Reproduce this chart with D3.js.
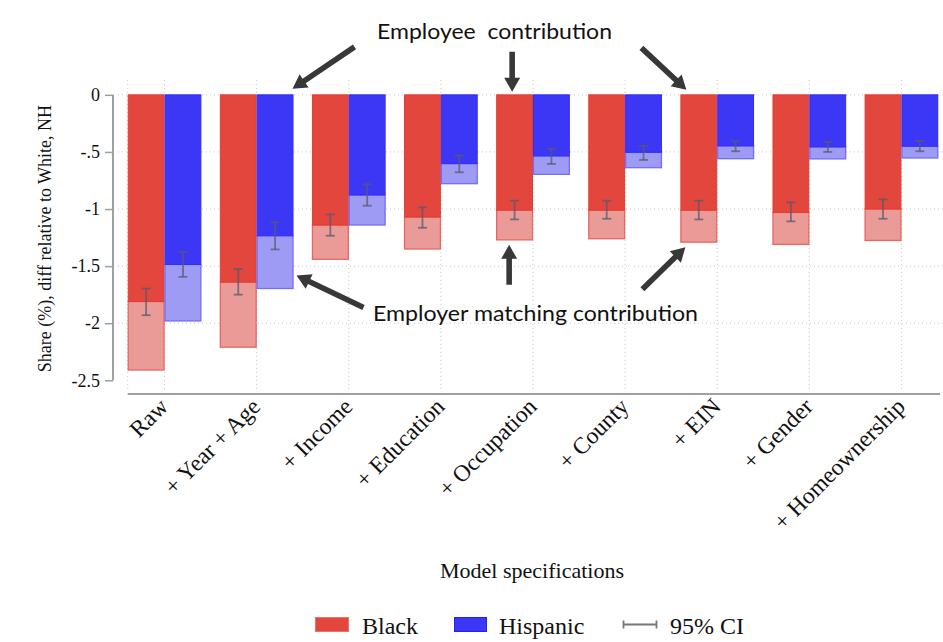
<!DOCTYPE html>
<html>
<head>
<meta charset="utf-8">
<script src="https://cdn.jsdelivr.net/npm/d3@7"></script>
<style>
  html, body { margin: 0; padding: 0; background: #fff; }
  svg { display: block; }
</style>
</head>
<body>
<svg id="chart" width="943" height="642"></svg>
<script>
// ---------------- data ----------------
const categories = ["Raw", "+ Year + Age", "+ Income", "+ Education", "+ Occupation",
                    "+ County", "+ EIN", "+ Gender", "+ Homeownership"];
// Black: employee contribution (dark part) and total incl. employer match (light part)
const blackEmployee = [-1.81, -1.64, -1.14, -1.07, -1.01, -1.01, -1.01, -1.03, -1.00];
const blackTotal    = [-2.41, -2.21, -1.44, -1.35, -1.27, -1.26, -1.29, -1.31, -1.275];
const blackCILow    = [-1.93, -1.75, -1.234, -1.164, -1.091, -1.085, -1.091, -1.108, -1.085];
const blackCIHigh   = [-1.696, -1.526, -1.047, -0.985, -0.927, -0.927, -0.927, -0.941, -0.915];
// Hispanic
const hispEmployee  = [-1.485, -1.234, -0.877, -0.602, -0.535, -0.503, -0.447, -0.456, -0.45];
const hispTotal     = [-1.98, -1.696, -1.14, -0.778, -0.696, -0.638, -0.559, -0.561, -0.553];
const hispCILow     = [-1.594, -1.354, -0.971, -0.678, -0.605, -0.570, -0.494, -0.50, -0.494];
const hispCIHigh    = [-1.375, -1.117, -0.784, -0.532, -0.471, -0.447, -0.406, -0.412, -0.404];
// axis ticks
const yTicks = [0, -0.5, -1, -1.5, -2, -2.5];
const yTickLabels = ["0", "-.5", "-1", "-1.5", "-2", "-2.5"];
const gridTicks = [0, -0.5, -1, -1.5, -2];
const legendLabels = ["Black", "Hispanic", "95% CI"];
const annotationTop = "Employee  contribution";
const annotationBottom = "Employer matching contribution";
const yTitle = "Share (%), diff relative to White, NH";
const xTitle = "Model specifications";

// ---------------- styles ----------------
const C = {
  redDark: "#e3463d", redDarkStroke: "#e63b32",
  redLight: "#eb9b97", redLightStroke: "#e8665f",
  blueDark: "#3b37f5", blueDarkStroke: "#2f2cff",
  blueLight: "#9e9bf5", blueLightStroke: "#716ef7",
  ci: "rgba(90,90,110,0.75)", grid: "#c8c8c8", axis: "#a0a0a0", arrow: "#383838"
};
const serif = "'Liberation Serif', 'Times New Roman', serif";
const sans = "Lato, 'Open Sans', sans-serif";

const svg = d3.select("#chart");

// ---------------- scales ----------------
const y = d3.scaleLinear().domain([-2.62, 0.13]).range([394, 80]);
const x = d3.scaleBand().domain(categories).range([118.5, 947.5])
  .paddingInner(0.2).paddingOuter(0.1);
const sub = d3.scaleBand().domain(["Black", "Hispanic"]).range([0, x.bandwidth()]);
const bw = sub.bandwidth();

// ---------------- grid ----------------
const grid = svg.append("g");
grid.selectAll("line.h").data(gridTicks).join("line")
  .attr("x1", 118).attr("x2", 943)
  .attr("y1", d => y(d)).attr("y2", d => y(d))
  .attr("stroke", C.grid).attr("stroke-width", 1).attr("stroke-dasharray", "1,3");
const vgrid = [x(categories[0])].concat(categories.map(c => x(c) + x.bandwidth() / 2));
grid.selectAll("line.v").data(vgrid).join("line")
  .attr("x1", d => d).attr("x2", d => d)
  .attr("y1", 80).attr("y2", 392)
  .attr("stroke", C.grid).attr("stroke-width", 1).attr("stroke-dasharray", "1,3");

// ---------------- bars ----------------
const rows = categories.map((c, i) => ({
  c,
  b: { emp: blackEmployee[i], tot: blackTotal[i], lo: blackCILow[i], hi: blackCIHigh[i] },
  h: { emp: hispEmployee[i], tot: hispTotal[i], lo: hispCILow[i], hi: hispCIHigh[i] }
}));

const bars = svg.append("g");
function drawSeries(key, name, fillDark, strokeDark, fillLight, strokeLight) {
  const g = bars.append("g");
  // light (employer) part: from employee level to total
  g.selectAll("rect.l").data(rows).join("rect")
    .attr("x", d => x(d.c) + sub(name) + 0.5)
    .attr("width", bw - 1)
    .attr("y", d => y(d[key].emp))
    .attr("height", d => y(d[key].tot) - y(d[key].emp))
    .attr("fill", fillLight).attr("stroke", strokeLight).attr("stroke-width", 1.3);
  // dark (employee) part: 0 to employee
  g.selectAll("rect.d").data(rows).join("rect")
    .attr("x", d => x(d.c) + sub(name) + 0.5)
    .attr("width", bw - 1)
    .attr("y", y(0))
    .attr("height", d => y(d[key].emp) - y(0))
    .attr("fill", fillDark).attr("stroke", strokeDark).attr("stroke-width", 1);
  // confidence intervals
  const ci = g.selectAll("g.ci").data(rows).join("g")
    .attr("transform", d => `translate(${x(d.c) + sub(name) + bw / 2},0)`);
  ci.append("line").attr("x1", 0).attr("x2", 0)
    .attr("y1", d => y(d[key].lo)).attr("y2", d => y(d[key].hi))
    .attr("stroke", C.ci).attr("stroke-width", 1.8);
  ci.append("line").attr("x1", -4.5).attr("x2", 4.5)
    .attr("y1", d => y(d[key].lo)).attr("y2", d => y(d[key].lo))
    .attr("stroke", C.ci).attr("stroke-width", 1.8);
  ci.append("line").attr("x1", -4.5).attr("x2", 4.5)
    .attr("y1", d => y(d[key].hi)).attr("y2", d => y(d[key].hi))
    .attr("stroke", C.ci).attr("stroke-width", 1.8);
}
drawSeries("b", "Black", C.redDark, C.redDarkStroke, C.redLight, C.redLightStroke);
drawSeries("h", "Hispanic", C.blueDark, C.blueDarkStroke, C.blueLight, C.blueLightStroke);

// ---------------- axes ----------------
const yAxisG = svg.append("g").attr("transform", "translate(113,0)")
  .call(d3.axisLeft(y).tickValues(yTicks)
    .tickFormat((d, i) => yTickLabels[i]).tickSize(8).tickPadding(5));
yAxisG.select(".domain").attr("d", `M0,${y(0)}V${y(-2.5)}`)
  .attr("stroke", C.axis).attr("stroke-width", 2);
yAxisG.selectAll(".tick line").attr("stroke", C.axis).attr("stroke-width", 1.5);
yAxisG.selectAll(".tick text").attr("font-family", serif).attr("font-size", 18).attr("fill", "#111");

const xAxisG = svg.append("g").attr("transform", "translate(0,394)")
  .call(d3.axisBottom(x).tickSize(0).tickPadding(0));
xAxisG.select(".domain").attr("d", `M${x(categories[0])},0H940`)
  .attr("stroke", C.axis).attr("stroke-width", 2);
xAxisG.selectAll(".tick text")
  .attr("font-family", serif).attr("font-size", 23.5).attr("fill", "#111")
  .attr("text-anchor", "end").attr("dy", 0).attr("y", 0)
  .attr("transform", "translate(5,14) rotate(-45)");

// axis titles
svg.append("text").attr("transform", `translate(51,${(y(0) + y(-2.5)) / 2 + 1}) rotate(-90)`)
  .attr("text-anchor", "middle").attr("font-family", serif).attr("font-size", 18)
  .attr("fill", "#111").text(yTitle);
svg.append("text").attr("x", 532).attr("y", 578).attr("text-anchor", "middle")
  .attr("font-family", serif).attr("font-size", 22).attr("fill", "#111").text(xTitle);

// ---------------- legend ----------------
const lg = svg.append("g");
lg.append("rect").attr("x", 315.5).attr("y", 617.5).attr("width", 33).attr("height", 14)
  .attr("fill", C.redDark).attr("stroke", "#f07068").attr("stroke-width", 1);
lg.append("text").attr("x", 362).attr("y", 634).attr("font-family", serif).attr("font-size", 24)
  .attr("fill", "#111").text(legendLabels[0]);
lg.append("rect").attr("x", 454.5).attr("y", 617.5).attr("width", 32).attr("height", 14)
  .attr("fill", C.blueDark).attr("stroke", "#2020ff").attr("stroke-width", 1);
lg.append("text").attr("x", 499).attr("y", 634).attr("font-family", serif).attr("font-size", 24)
  .attr("fill", "#111").text(legendLabels[1]);
lg.append("line").attr("x1", 623).attr("x2", 657).attr("y1", 624.5).attr("y2", 624.5)
  .attr("stroke", "#777").attr("stroke-width", 1.8);
[623.5, 656.5].forEach(px => lg.append("line").attr("x1", px).attr("x2", px)
  .attr("y1", 620.5).attr("y2", 628.5).attr("stroke", "#777").attr("stroke-width", 1.8));
lg.append("text").attr("x", 670).attr("y", 634).attr("font-family", serif).attr("font-size", 24)
  .attr("fill", "#111").text(legendLabels[2]);

// ---------------- annotations ----------------
const redL = i => x(categories[i]) + sub("Black");
const blueR = i => x(categories[i]) + sub("Hispanic") + bw;
const arrows = [
  { tip: [blueR(1) - 1, y(0) - 6], dx: 62, dy: -42 },
  { tip: [redL(4) + 16, y(0) - 3], dx: 0, dy: -40 },
  { tip: [redL(6) + 6, y(0) - 5], dx: -45, dy: -42 },
  { tip: [blueR(1) + 3, y(hispTotal[1]) - 13], dx: 67, dy: 32 },
  { tip: [redL(4) + 13, y(blackTotal[4]) + 5], dx: 0, dy: 40 },
  { tip: [redL(6) + 5, y(blackTotal[6]) + 5], dx: -43, dy: 42 }
];
function arrowPath(a) {
  const [tx, ty] = a.tip;
  const sx = tx + a.dx, sy = ty + a.dy;
  const L = Math.hypot(a.dx, a.dy);
  const ux = -a.dx / L, uy = -a.dy / L;   // direction tail->tip
  const nx = -uy, ny = ux;
  const hl = 14, hw = 8, sw = 2.8;
  const bx = tx - ux * hl, by = ty - uy * hl;
  const pts = [
    [sx + nx * sw, sy + ny * sw], [bx + nx * sw, by + ny * sw], [bx + nx * hw, by + ny * hw],
    [tx, ty], [bx - nx * hw, by - ny * hw], [bx - nx * sw, by - ny * sw], [sx - nx * sw, sy - ny * sw]
  ];
  return "M" + pts.map(p => p.join(",")).join("L") + "Z";
}
svg.append("g").selectAll("path").data(arrows).join("path")
  .attr("d", arrowPath).attr("fill", C.arrow);

svg.append("text").attr("x", 377).attr("y", 39).attr("font-family", sans).attr("font-size", 22)
  .attr("fill", "#111").attr("textLength", 235).attr("lengthAdjust", "spacingAndGlyphs")
  .attr("xml:space", "preserve").style("white-space", "pre").text(annotationTop);
svg.append("text").attr("x", 373).attr("y", 321).attr("font-family", sans).attr("font-size", 22)
  .attr("fill", "#111").attr("textLength", 325).attr("lengthAdjust", "spacingAndGlyphs")
  .text(annotationBottom);
</script>
</body>
</html>
